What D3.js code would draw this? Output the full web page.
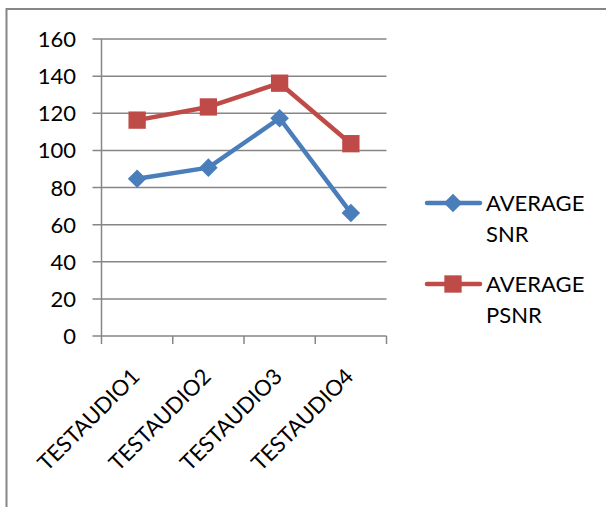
<!DOCTYPE html>
<html>
<head>
<meta charset="utf-8">
<script src="https://cdn.jsdelivr.net/npm/d3@7"></script>
<style>
  body { margin: 0; background: #fff; }
  svg { display: block; font-family: Lato, "Open Sans", sans-serif; }
</style>
</head>
<body>
<div id="chart-area"></div>
<script>
const categories = ["TESTAUDIO1", "TESTAUDIO2", "TESTAUDIO3", "TESTAUDIO4"]
const snrValues = [84.7, 90.7, 117.3, 66.3]
const psnrValues = [116.3, 123.4, 136.2, 103.6]
const yTicks = [0, 20, 40, 60, 80, 100, 120, 140, 160]
const seriesNames = [["AVERAGE", "SNR"], ["AVERAGE", "PSNR"]]

const BLUE = "#4A7EBB"
const RED = "#BE4B48"
const GRID = "#868686"

const svg = d3.select("#chart-area").append("svg")
    .attr("width", 606)
    .attr("height", 507)

// outer chart border
svg.append("rect")
    .attr("x", 6.5).attr("y", 9)
    .attr("width", 620).attr("height", 520)
    .attr("fill", "none")
    .attr("stroke", GRID)
    .attr("stroke-width", 2)

const PLOT = { LEFT: 101.5, RIGHT: 386.5, TOP: 39, BOTTOM: 336 }

const x = d3.scaleBand()
    .domain(categories)
    .range([PLOT.LEFT, PLOT.RIGHT])

const y = d3.scaleLinear()
    .domain([0, 160])
    .range([PLOT.BOTTOM, PLOT.TOP])

// gridlines
svg.append("g")
    .selectAll("line")
    .data(yTicks)
    .enter().append("line")
    .attr("x1", PLOT.LEFT - 9)
    .attr("x2", PLOT.RIGHT)
    .attr("y1", d => y(d))
    .attr("y2", d => y(d))
    .attr("stroke", GRID)
    .attr("stroke-width", 1.5)

// y axis line
svg.append("line")
    .attr("x1", PLOT.LEFT).attr("x2", PLOT.LEFT)
    .attr("y1", PLOT.TOP).attr("y2", PLOT.BOTTOM + 8)
    .attr("stroke", GRID)
    .attr("stroke-width", 1.5)

// y labels
svg.append("g")
    .selectAll("text")
    .data(yTicks)
    .enter().append("text")
    .attr("x", 76)
    .attr("y", d => y(d) + 8)
    .attr("text-anchor", "end")
    .attr("font-size", "22px")
    .attr("fill", "#000")
    .text(d => d)

// x category ticks
const xTickPos = categories.map(c => x(c)).concat([PLOT.RIGHT])
svg.append("g")
    .selectAll("line")
    .data(xTickPos.slice(1))
    .enter().append("line")
    .attr("x1", d => d).attr("x2", d => d)
    .attr("y1", PLOT.BOTTOM).attr("y2", PLOT.BOTTOM + 8)
    .attr("stroke", GRID)
    .attr("stroke-width", 1.5)

// x labels
svg.append("g")
    .selectAll("text")
    .data(categories)
    .enter().append("text")
    .attr("transform", d => `translate(${x(d) + x.bandwidth() / 2 + 4}, ${PLOT.BOTTOM + 42}) rotate(-45)`)
    .attr("text-anchor", "end")
    .attr("font-size", "22px")
    .attr("fill", "#000")
    .text(d => d)

const cx = c => x(c) + x.bandwidth() / 2
const line = d3.line()
    .x((d, i) => cx(categories[i]))
    .y(d => y(d))

const diamond = d3.symbol().type(d3.symbolDiamond2).size(220)
const square = d3.symbol().type(d3.symbolSquare).size(300)

// SNR series
svg.append("path")
    .datum(snrValues)
    .attr("d", line)
    .attr("fill", "none")
    .attr("stroke", BLUE)
    .attr("stroke-width", 4.5)
    .attr("stroke-linejoin", "round")

svg.append("g")
    .selectAll("path")
    .data(snrValues)
    .enter().append("path")
    .attr("d", diamond)
    .attr("transform", (d, i) => `translate(${cx(categories[i])}, ${y(d)})`)
    .attr("fill", BLUE)

// PSNR series
svg.append("path")
    .datum(psnrValues)
    .attr("d", line)
    .attr("fill", "none")
    .attr("stroke", RED)
    .attr("stroke-width", 4.5)
    .attr("stroke-linejoin", "round")

svg.append("g")
    .selectAll("path")
    .data(psnrValues)
    .enter().append("path")
    .attr("d", square)
    .attr("transform", (d, i) => `translate(${cx(categories[i])}, ${y(d)})`)
    .attr("fill", RED)

// Legend
const legendY = [203, 284]
const legendColors = [BLUE, RED]
const legendSymbols = [diamond, square]
const legend = svg.append("g")
seriesNames.forEach((name, i) => {
    const ly = legendY[i]
    legend.append("line")
        .attr("x1", 427).attr("x2", 480)
        .attr("y1", ly).attr("y2", ly)
        .attr("stroke", legendColors[i])
        .attr("stroke-width", 4.5)
        .attr("stroke-linecap", "round")
    legend.append("path")
        .attr("d", legendSymbols[i])
        .attr("transform", `translate(453, ${ly})`)
        .attr("fill", legendColors[i])
    const t = legend.append("text")
        .attr("x", 486)
        .attr("y", ly + 8)
        .attr("font-size", "22px")
        .attr("fill", "#000")
    t.append("tspan").attr("x", 486).text(name[0])
    t.append("tspan").attr("x", 486).attr("dy", 31).text(name[1])
})
</script>
</body>
</html>
